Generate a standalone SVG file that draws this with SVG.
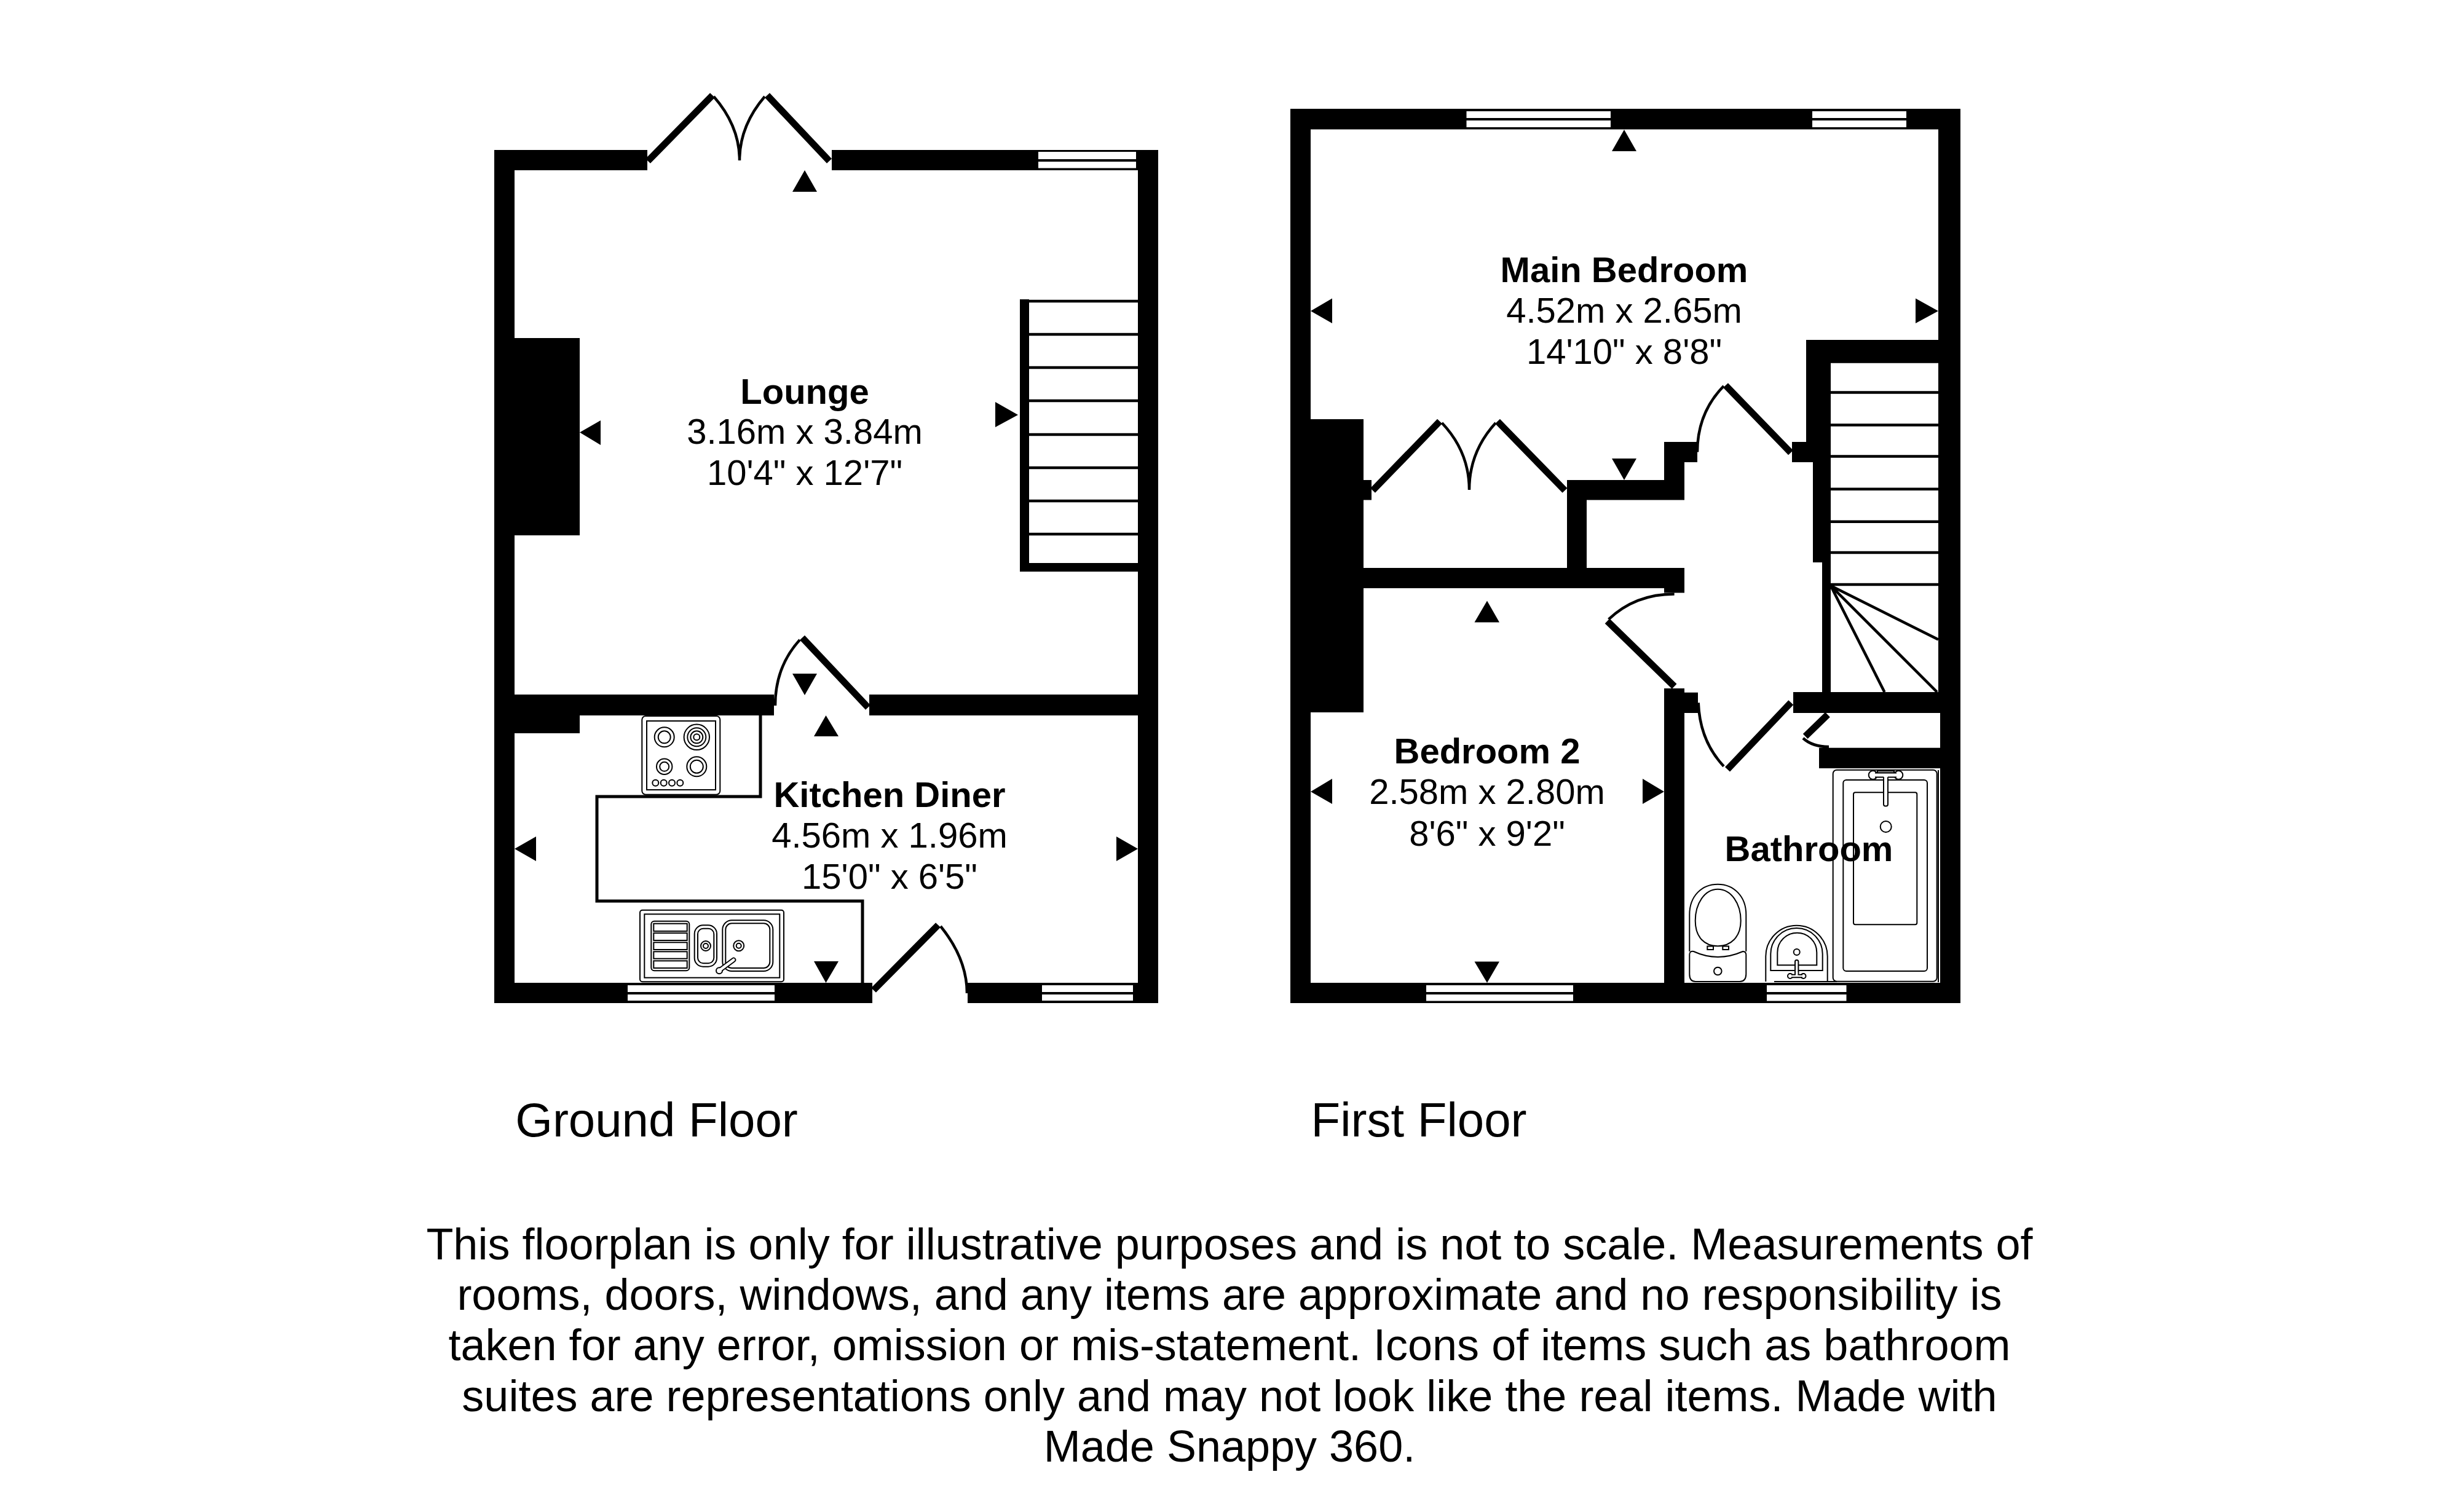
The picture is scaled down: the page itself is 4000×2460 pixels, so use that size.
<svg xmlns="http://www.w3.org/2000/svg" width="4000" height="2460" viewBox="0 0 4000 2460">
<style>
text{font-family:"Liberation Sans",Arial,sans-serif;fill:#000;text-anchor:middle}
.r{font-size:58px}
.b{font-size:58px;font-weight:700}
.f{font-size:78px}
.d{font-size:72px}
.w{fill:#000}
.win{fill:#fff}
.cover{fill:#fff;stroke:none}
.leaf{stroke:#000;stroke-width:11;fill:none}
.arc{stroke:#000;stroke-width:4.5;fill:none}
.step{stroke:#000;stroke-width:4.5;fill:none}
.t{stroke:#000;stroke-width:2;fill:#fff}
.n{stroke:#000;stroke-width:2;fill:none}
.c{stroke:#000;stroke-width:5;fill:none}
</style>
<rect width="4000" height="2460" fill="#fff"/>

<g id="ground-floor-structure">
<g class="w">
<rect x="804" y="244" width="249" height="33"/>
<rect x="1353" y="244" width="531" height="33"/>
<rect x="804" y="244" width="33" height="1388"/>
<rect x="1851" y="244" width="33" height="1388"/>
<rect x="837" y="550" width="106" height="321"/>
<rect x="804" y="1130" width="455" height="34"/>
<rect x="1414" y="1130" width="470" height="34"/>
<rect x="837" y="1164" width="106" height="29"/>
<rect x="804" y="1599" width="615" height="33"/>
<rect x="1574" y="1599" width="310" height="33"/>
<rect x="1659" y="487" width="15" height="443"/>
<rect x="1659" y="916" width="192" height="14"/>
</g>
<g class="win">
<rect x="1689" y="247" width="159" height="12"/>
<rect x="1689" y="263" width="159" height="10.500"/>
<rect x="1021" y="1603" width="239" height="11"/>
<rect x="1021" y="1618" width="239" height="10"/>
<rect x="1695" y="1603" width="148" height="11"/>
<rect x="1695" y="1618" width="148" height="10"/>
</g>
<path class="step" d="M1674 490H1851M1674 544H1851M1674 598H1851M1674 652H1851M1674 707H1851M1674 761H1851M1674 815H1851M1674 869H1851"/>
<path class="c" d="M1237 1164V1296H971V1466H1403V1599"/>
<path class="leaf" d="M1054 262L1159 155M1349 262L1248 155M1412 1151L1305 1037.500M1421 1611L1526 1505"/>
<path class="arc" d="M1161 157Q1203 205 1203 261Q1203 205 1244 157M1301 1041Q1261 1085 1261 1148M1530 1507Q1573 1560 1573 1616"/>
</g>

<g id="hob">
<rect class="t" x="1044.300" y="1165" width="127" height="127.700" rx="6"/>
<rect class="t" x="1052" y="1173" width="112" height="112"/>
<g class="n">
<circle cx="1080.700" cy="1199.300" r="16"/><circle cx="1080.700" cy="1199.300" r="10"/>
<circle cx="1133.300" cy="1199.300" r="20.700"/><circle cx="1133.300" cy="1199.300" r="15"/><circle cx="1133.300" cy="1199.300" r="10"/><circle cx="1133.300" cy="1199.300" r="5"/>
<circle cx="1080.700" cy="1247.300" r="12.700"/><circle cx="1080.700" cy="1247.300" r="7.500"/>
<circle cx="1133.300" cy="1247.300" r="16"/><circle cx="1133.300" cy="1247.300" r="10.500"/>
<circle cx="1066.300" cy="1273.700" r="5"/><circle cx="1079.700" cy="1273.700" r="5"/><circle cx="1093" cy="1273.700" r="5"/><circle cx="1106.300" cy="1273.700" r="5"/>
</g>
</g>

<g id="sink">
<rect class="t" x="1041" y="1480.700" width="234" height="116.600" rx="4"/>
<rect class="t" x="1048.300" y="1487.300" width="220" height="103.400"/>
<g class="n">
<rect x="1059.300" y="1498.700" width="62" height="80.600" rx="5"/>
<rect x="1063.300" y="1502.700" width="54.400" height="12.300"/>
<rect x="1063.300" y="1518" width="54.400" height="12"/>
<rect x="1063.300" y="1533.300" width="54.400" height="11.700"/>
<rect x="1063.300" y="1548.300" width="54.400" height="11.400"/>
<rect x="1063.300" y="1563.300" width="54.400" height="11.700"/>
<rect x="1129.700" y="1505.300" width="36.300" height="67.400" rx="14"/>
<rect x="1135" y="1510.700" width="26.300" height="56.600" rx="9"/>
<circle cx="1148" cy="1539" r="8"/><circle cx="1148" cy="1539" r="4"/>
<rect x="1175.300" y="1497.300" width="82" height="82.700" rx="15"/>
<rect x="1180.300" y="1502.300" width="72" height="72.700" rx="10"/>
<circle cx="1201.700" cy="1538.700" r="8.500"/><circle cx="1201.700" cy="1538.700" r="4"/>
</g>
<path d="M1170 1579L1193.300 1561.700" stroke="#000" stroke-width="8" stroke-linecap="round"/>
<circle class="t" cx="1170" cy="1579.300" r="5"/>
<path d="M1170 1579L1193.300 1561.700" stroke="#fff" stroke-width="4.500" stroke-linecap="round"/>
</g>

<g id="ground-markers" fill="#000">
<path d="M1309 277L1289 312H1329ZM943 703.500L977 684V724ZM1656 675L1619 654V695ZM1309 1131L1289 1096H1329ZM1343.500 1164L1324 1198H1364ZM837 1381L872 1361V1401ZM1851 1381L1816 1361V1401ZM1343.500 1599L1324 1564H1364Z"/>
</g>

<g id="lounge"><text class="b" x="1309" y="657">Lounge</text><text class="r" x="1309" y="722">3.16m x 3.84m</text><text class="r" x="1309" y="789">10'4" x 12'7"</text></g>
<g id="kitchen-diner"><text class="b" x="1447" y="1313">Kitchen Diner</text><text class="r" x="1447" y="1379">4.56m x 1.96m</text><text class="r" x="1447" y="1446">15'0" x 6'5"</text></g>

<g id="first-floor-structure">
<g class="w">
<rect x="2099" y="177" width="1090" height="33.500"/>
<rect x="2099" y="177" width="33" height="1455"/>
<rect x="3153" y="177" width="36" height="982"/>
<rect x="3156" y="1159" width="33" height="473"/>
<rect x="2132" y="682" width="86" height="477"/>
<rect x="2218" y="924" width="522" height="33"/>
<rect x="2707" y="957" width="33" height="7.500"/>
<rect x="2218" y="781" width="13" height="32.500"/>
<rect x="2549" y="781" width="191" height="32.500"/>
<rect x="2549" y="781" width="32" height="143"/>
<rect x="2707" y="719" width="33" height="94"/>
<rect x="2707" y="719" width="54" height="33"/>
<rect x="2915" y="719" width="34" height="33"/>
<rect x="2938" y="553" width="215" height="34.500"/>
<rect x="2938" y="553" width="40" height="199"/>
<rect x="2949" y="719" width="29" height="196"/>
<rect x="2964" y="915" width="14" height="211"/>
<rect x="2917" y="1126" width="272" height="34"/>
<rect x="2959" y="1216.700" width="197" height="33.300"/>
<rect x="2707" y="1120" width="33" height="512"/>
<rect x="2740" y="1126.700" width="22" height="33.300"/>
<rect x="2099" y="1599" width="1090" height="33"/>
</g>
<g class="win">
<rect x="2385.500" y="181" width="234.500" height="11"/>
<rect x="2385.500" y="196" width="234.500" height="11"/>
<rect x="2948" y="181" width="153" height="11"/>
<rect x="2948" y="196" width="153" height="11"/>
<rect x="2320" y="1603" width="239" height="11"/>
<rect x="2320" y="1618" width="239" height="10.500"/>
<rect x="2874" y="1603" width="129.500" height="11"/>
<rect x="2874" y="1618" width="129.500" height="10.500"/>
</g>
<path class="step" d="M2978 588.600H3153M2978 638.600H3153M2978 691.600H3153M2978 742.600H3153M2978 795.700H3153M2978 848.800H3153M2978 899H3153M2978 951H3153M2978 953L3153 1040.600M2978 953L3151 1126M2978 953L3065.500 1126"/>
<path class="leaf" d="M2233 798L2342 685.500M2545.500 798L2436 685.500M2807 627L2913 736.500M2614.500 1010.500L2723.600 1116.700M2913.300 1143L2810 1251.700M2973 1162.700L2936.700 1198"/>
<path class="arc" d="M2345.500 688Q2390 735 2390 797Q2390 735 2433 688M2804 628Q2761 672 2761 735.500M2616.700 1007.600Q2660 966.400 2723.600 966.400M2762.700 1143.300Q2765 1205 2804 1246.700M2933 1201Q2948 1215 2975 1215"/>
</g>

<g id="bath">
<rect class="t" x="2981.700" y="1252.700" width="169" height="344" rx="6"/>
<path class="n" d="M3153 1253V1598"/>
<rect class="t" x="2998.300" y="1269" width="136.700" height="311" rx="5"/>
<rect class="t" x="3015" y="1289.300" width="103.300" height="215" rx="3"/>
<circle class="n" cx="3067.700" cy="1345" r="9"/>
<rect class="t" x="3054" y="1254.300" width="27" height="3.200"/>
<circle class="t" cx="3046.700" cy="1261" r="7"/><circle class="t" cx="3088.300" cy="1261" r="7"/>
<rect class="cover" x="3048" y="1258" width="39" height="6"/>
<path class="n" d="M3050 1257.500H3085M3050 1264.500H3064M3071 1264.500H3085"/>
<rect class="t" x="3064" y="1264.500" width="7" height="47" rx="3"/>
<rect class="cover" x="3065" y="1263" width="5" height="6"/>
</g>

<g id="toilet">
<path class="n" d="M2748.300 1548V1488C2748.300 1458 2768 1438.700 2794.300 1438.700C2820 1438.700 2840.300 1458 2840.300 1488V1548"/>
<path class="n" d="M2794.300 1446.700C2816 1446.700 2831.700 1470 2831.700 1498C2831.700 1525 2815 1539.300 2794.300 1539.300C2773 1539.300 2757.700 1525 2757.700 1498C2757.700 1470 2773 1446.700 2794.300 1446.700Z"/>
<rect class="n" x="2777.300" y="1539.500" width="9.700" height="5.500"/>
<rect class="n" x="2802.300" y="1539.500" width="9.700" height="5.500"/>
<path class="n" d="M2755 1548Q2794 1566 2835 1548Q2840 1548 2840.300 1553V1585Q2840 1597 2830 1597H2758Q2748.300 1597 2748.300 1585V1553Q2748.300 1547 2755 1548Z"/>
<circle class="n" cx="2794.300" cy="1580" r="6.300"/>
</g>

<g id="basin">
<path class="n" d="M2872.300 1597V1556A50.200 50.200 0 0 1 2972.700 1556V1597M2886 1597H2988"/>
<path class="n" d="M2880.300 1579V1552A42.200 42 0 0 1 2964.700 1552V1579Z"/>
<path class="n" d="M2891.300 1570.300V1549.700A32 32 0 0 1 2955.300 1549.700V1570.300Z"/>
<circle class="n" cx="2922.700" cy="1549" r="5"/>
<circle class="t" cx="2912" cy="1588" r="4"/><circle class="t" cx="2933.500" cy="1588" r="4"/>
<rect class="cover" x="2913" y="1586" width="20" height="4"/>
<path class="n" d="M2914 1585.800H2920M2925.400 1585.800H2932M2914 1590.200H2932"/>
<rect class="t" x="2920" y="1562" width="5.400" height="24" rx="2.500"/>
<rect class="cover" x="2921" y="1582" width="3.400" height="7"/>
</g>

<g id="first-markers" fill="#000">
<path d="M2642 211L2622 246H2662ZM2132 506L2167 485.500V526ZM3153 506L3116 485.500V526ZM2642 781L2622 746H2662ZM2419 977.600L2398.500 1012.500H2439ZM2419 1599L2398.500 1564.600H2439ZM2132 1288L2167 1267V1308ZM2707 1288L2672 1267V1308Z"/>
</g>

<g id="main-bedroom"><text class="b" x="2642" y="459">Main Bedroom</text><text class="r" x="2642" y="525">4.52m x 2.65m</text><text class="r" x="2642" y="592">14'10" x 8'8"</text></g>
<g id="bedroom-2"><text class="b" x="2419" y="1242">Bedroom 2</text><text class="r" x="2419" y="1308">2.58m x 2.80m</text><text class="r" x="2419" y="1376">8'6" x 9'2"</text></g>
<g id="bathroom"><text class="b" x="2942.500" y="1401">Bathroom</text></g>

<g id="captions">
<text class="f" x="1068" y="1849">Ground Floor</text>
<text class="f" x="2308" y="1849">First Floor</text>
<text class="d" x="2000" y="2049">This floorplan is only for illustrative purposes and is not to scale. Measurements of</text>
<text class="d" x="2000" y="2131">rooms, doors, windows, and any items are approximate and no responsibility is</text>
<text class="d" x="2000" y="2213">taken for any error, omission or mis-statement. Icons of items such as bathroom</text>
<text class="d" x="2000" y="2296">suites are representations only and may not look like the real items. Made with</text>
<text class="d" x="2000" y="2378">Made Snappy 360.</text>
</g>
</svg>
